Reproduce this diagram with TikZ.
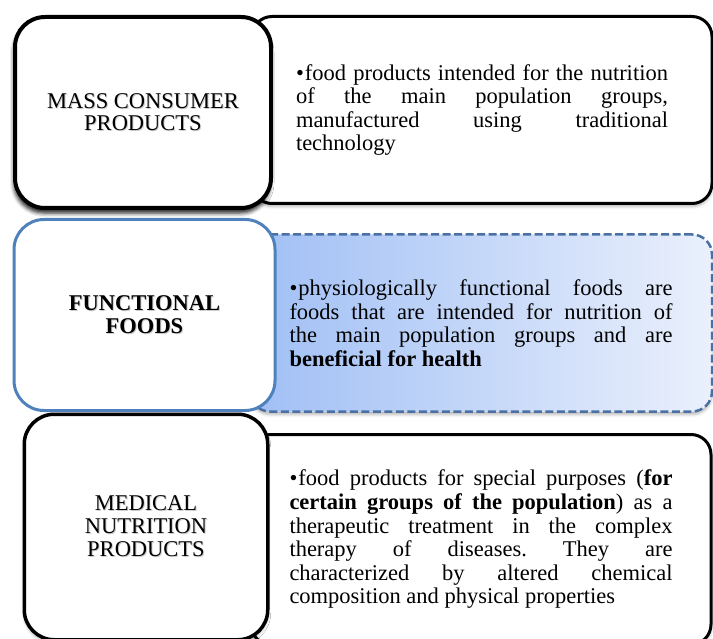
\documentclass[tikz,border=0pt]{standalone}
\usepackage{fontspec}
\setmainfont{Liberation Serif}
\usetikzlibrary{shadows.blur}
\definecolor{frameblue}{RGB}{79,129,189}
\definecolor{dashblue}{RGB}{74,112,164}
\definecolor{fillblueL}{RGB}{160,191,245}
\definecolor{fillblueR}{RGB}{234,240,252}
\frenchspacing
% label text with a soft shadow
\newcommand{\shtext}[1]{\leavevmode\rlap{\kern1pt\raisebox{-1pt}{\color{black!20}#1}}#1}
% bullet with hanging lines
\newcommand{\bulletpar}{\tolerance=10000\hyphenpenalty=10000\hangindent=9pt\hangafter=1\noindent\makebox[9pt][l]{\textbullet}}
\tikzset{
  catbox/.style = {draw, fill=white, line width=3.5pt, rounded corners=30pt,
    align=center, font=\fontsize{22.5}{22.5}\selectfont},
  descbox/.style = {draw, fill=white, line width=3pt, rounded corners=20pt,
    text width=383pt, align=justify, font=\fontsize{22.5}{23.6}\selectfont},
  heavyshadow/.style = {blur shadow={shadow xshift=-1pt, shadow yshift=-5pt,
    shadow opacity=90, shadow blur radius=4pt}},
  softshadow/.style = {blur shadow={shadow xshift=0pt, shadow yshift=-3pt,
    shadow opacity=30, shadow blur radius=3pt}}
}

\begin{document}
\begin{tikzpicture}[x=1pt,y=-1pt]
  \useasboundingbox (0,0) rectangle (713,639);
  %
  % descriptions
  \node[descbox, softshadow, minimum width=460pt, minimum height=187pt, text width=372pt] (massdesc) at (482,110)
    {\bulletpar food products intended for the nutrition\linebreak of the main population groups,\linebreak manufactured using traditional\linebreak technology};
  \node[descbox, softshadow, draw=dashblue, line width=2.5pt, dash pattern=on 8pt off 3.5pt,
    left color=fillblueL, right color=fillblueR, minimum width=462pt, minimum height=177pt] (funcdesc) at (481,323)
    {\bulletpar physiologically functional foods are\linebreak foods that are intended for nutrition of\linebreak the main population groups and are\linebreak \textbf{beneficial for health}};
  \node[descbox, softshadow, minimum width=460pt, minimum height=210pt] (meddesc) at (481,539.5)
    {\bulletpar food products for special purposes (\textbf{for}\linebreak \textbf{certain groups of the population}) as a\linebreak therapeutic treatment in the complex\linebreak therapy of diseases. They are\linebreak characterized by altered chemical\linebreak composition and physical properties};
  %
  % categories
  \node[catbox, heavyshadow, line width=4pt, minimum width=256pt, minimum height=191pt] (mass) at (143,112.5)
    {\shtext{MASS CONSUMER}\\\shtext{PRODUCTS}};
  \node[catbox, draw=frameblue, line width=3pt, minimum width=261pt, minimum height=191pt,
    font=\fontsize{22.5}{22.5}\selectfont\bfseries] (func) at (144.5,315)
    {\shtext{FUNCTIONAL}\\\shtext{FOODS}};
  \node[catbox, softshadow, minimum width=243.5pt, minimum height=225.5pt] (med) at (146,527)
    {\shtext{MEDICAL}\\[0.5pt]\shtext{NUTRITION}\\[0.5pt]\shtext{PRODUCTS}};
\end{tikzpicture}
\end{document}
